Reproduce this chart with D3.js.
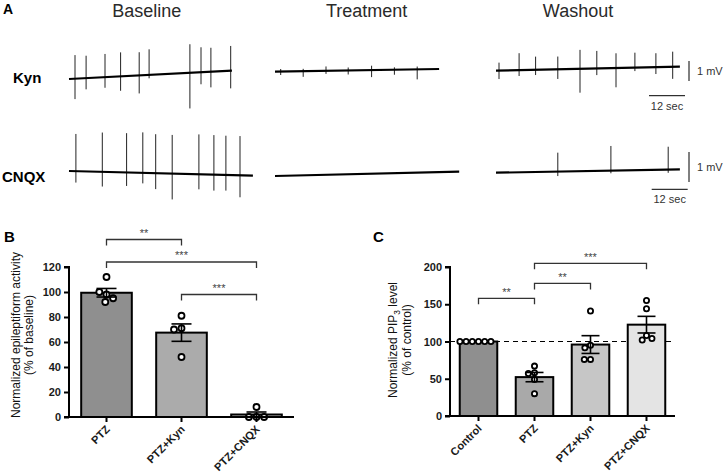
<!DOCTYPE html>
<html><head><meta charset="utf-8">
<script src="https://cdn.jsdelivr.net/npm/d3@7"></script>
<style>body{margin:0;background:#fff}svg{display:block;font-family:"Liberation Sans",Arial,sans-serif}</style>
</head><body><svg id="c" width="725" height="473"></svg>
<script>
// ---------------- DATA ----------------
// Panel A: electrophysiology traces (time in s, amplitudes in mV)
const traceRows = ["Kyn", "CNQX"];
const traceConditions = ["Baseline", "Treatment", "Washout"];
const traceDurations = [[54.3, 54.7, 61.3], [61.3, 61.4, 61.3]];
// baseline drift (mV at start, mV at end)
const kynDrift  = [[-0.2, 0.215], [0.165, 0.3], [0.215, 0.415]];
const cnqxDrift = [[0.067, -0.09], [-0.1, 0.043], [0.01, 0.123]];
// spikes: times (s), upward amplitude (mV), downward amplitude (mV)
const kynBaselineT    = [2, 5.7, 12, 17.2, 23.4, 26.7, 40.3, 44, 47.3, 53.9];
const kynBaselineUp   = [1.18, 1.12, 1.16, 1.2, 1.16, 1.28, 1.43, 1.25, 1.2, 1.24];
const kynBaselineDn   = [1.02, 0.56, 0.53, 0.72, 0.9, 0.17, 1.78, 0.6, 0.78, 0.88];
const kynTreatT       = [1.9, 9.4, 17, 24.4, 32.2, 39.8, 47.4];
const kynTreatUp      = [0.13, 0.12, 0.22, 0.15, 0.22, 0.12, 0.14];
const kynTreatDn      = [0.17, 0.28, 0.15, 0.2, 0.35, 0.25, 0.5];
const kynWashT        = [1, 7.7, 13.2, 20.6, 28, 33.6, 40, 46.3, 53.3, 58.9];
const kynWashUp       = [0.4, 0.85, 0.66, 0.64, 0.95, 0.88, 0.74, 0.75, 0.7, 0.76];
const kynWashDn       = [0.42, 0.29, 0.26, 0.48, 1.19, 0.33, 0.96, 0.17, 0.34, 0.6];
const cnqxBaselineT   = [2.3, 11.1, 19.2, 24.6, 28.9, 34.4, 43.3, 48.3, 52.3, 57];
const cnqxBaselineUp  = [1.24, 1.31, 1.31, 1.35, 1.3, 1.29, 1.33, 1.32, 1.31, 1.31];
const cnqxBaselineDn  = [0.38, 0.49, 0.45, 0.35, 0.53, 0.86, 0.5, 0.53, 0.52, 0.73];
const cnqxTreatT      = [];
const cnqxTreatUp     = [];
const cnqxTreatDn     = [];
const cnqxWashT       = [20.6, 38.3, 57.4];
const cnqxWashUp      = [0.63, 0.82, 0.76];
const cnqxWashDn      = [0.15, 0.09, 0.11];
const scaleBarMV = 1, scaleBarSec = 12;

// Panel B
const catsB = ["PTZ", "PTZ+Kyn", "PTZ+CNQX"];
const pointsB = [[112, 98, 100, 92, 95], [81, 71, 70, 48], [8, 0, 0, 0]];
const ticksB = [0, 20, 40, 60, 80, 100, 120];
const sigB = [["PTZ", "PTZ+Kyn", "**", 142], ["PTZ", "PTZ+CNQX", "***", 124], ["PTZ+Kyn", "PTZ+CNQX", "***", 98]];

// Panel C
const catsC = ["Control", "PTZ", "PTZ+Kyn", "PTZ+CNQX"];
const pointsC = [[100, 100, 100, 100, 100, 100], [67, 58, 57, 49, 30], [141, 95, 91.5, 76, 76], [155, 144, 108, 102, 104]];
const ticksC = [0, 50, 100, 150, 200];
const refLineC = 100;
const sigC = [["Control", "PTZ", "**", 158], ["PTZ", "PTZ+Kyn", "**", 178], ["PTZ", "PTZ+CNQX", "***", 205]];

// ---------------- DRAW ----------------
const svg = d3.select("#c");
const FONT = '"Liberation Sans", Arial, sans-serif';

// Panel A
svg.append("text").attr("x", 3).attr("y", 14).attr("font-size", 14).attr("font-weight", "bold").text("A");
const colX = [69, 275, 496];
const colTitleX = [146.7, 366.7, 578];
const pxPerSec = 3;
const rowY = [75, 173];
const pxPerMV = [20, 30];
traceConditions.forEach((c, i) => {
  svg.append("text").attr("x", colTitleX[i]).attr("y", 17).attr("text-anchor", "middle")
    .attr("font-size", 18).attr("fill", "#2a2a2a").text(c);
});
const spikeSets = [
  [[kynBaselineT, kynBaselineUp, kynBaselineDn], [kynTreatT, kynTreatUp, kynTreatDn], [kynWashT, kynWashUp, kynWashDn]],
  [[cnqxBaselineT, cnqxBaselineUp, cnqxBaselineDn], [cnqxTreatT, cnqxTreatUp, cnqxTreatDn], [cnqxWashT, cnqxWashUp, cnqxWashDn]]
];
const drifts = [kynDrift, cnqxDrift];
const rowLabelY = [83, 182];
traceRows.forEach((r, ri) => {
  svg.append("text").attr("x", ri === 0 ? 13 : 2).attr("y", rowLabelY[ri]).attr("font-size", 15)
    .attr("font-weight", "bold").text(r);
  const y = d3.scaleLinear().domain([-1, 1]).range([rowY[ri] + pxPerMV[ri], rowY[ri] - pxPerMV[ri]]);
  traceConditions.forEach((c, ci) => {
    const dur = traceDurations[ri][ci];
    const x = d3.scaleLinear().domain([0, dur]).range([colX[ci], colX[ci] + dur * pxPerSec]);
    const dr = drifts[ri][ci];
    const base = d3.scaleLinear().domain([0, dur]).range(dr);
    const g = svg.append("g");
    const [T, U, D] = spikeSets[ri][ci];
    g.selectAll("line.sp").data(T).join("line")
      .attr("x1", t => x(t)).attr("x2", t => x(t))
      .attr("y1", (t, i) => y(base(t) + U[i])).attr("y2", (t, i) => y(base(t) - D[i]))
      .attr("stroke", "#222").attr("stroke-width", 1);
    const line = d3.line().x(d => x(d)).y(d => y(base(d)));
    g.append("path").attr("d", line([0, dur])).attr("stroke", "#000").attr("stroke-width", 2.2).attr("fill", "none");
    if (ci === 2) {
      // scale bars
      const sbX = 689;
      const sbTop = y(0.7);
      g.append("line").attr("x1", sbX).attr("x2", sbX).attr("y1", sbTop).attr("y2", sbTop + (y(0) - y(scaleBarMV)))
        .attr("stroke", "#000").attr("stroke-width", 1);
      g.append("text").attr("x", 697).attr("y", sbTop + (y(0) - y(scaleBarMV)) / 2 + 4).attr("font-size", 11).attr("fill", "#333").text("1 mV");
      const hbY = ri === 0 ? 95.7 : 189.3;
      const hbX1 = ri === 0 ? 649 : 651.7;
      g.append("line").attr("x1", hbX1).attr("x2", hbX1 + (x(scaleBarSec) - x(0))).attr("y1", hbY).attr("y2", hbY)
        .attr("stroke", "#000").attr("stroke-width", 1);
      g.append("text").attr("x", hbX1 + (x(scaleBarSec) - x(0)) / 2).attr("y", hbY + 14).attr("text-anchor", "middle")
        .attr("font-size", 11).attr("fill", "#333").text("12 sec");
    }
  });
});

// helpers
function mean(a) { return d3.mean(a); }
function sem(a) { return a.length > 1 ? d3.deviation(a) / Math.sqrt(a.length) : 0; }
function dodge(vals, y, D) {
  const placed = [];
  return vals.map(v => {
    const yy = y(v);
    const forb = [];
    placed.forEach(p => {
      const dy = Math.abs(p.y - yy);
      if (dy < D) { const w = Math.sqrt(D * D - dy * dy); forb.push([p.x - w, p.x + w]); }
    });
    const cands = [0];
    forb.forEach(f => { cands.push(f[0], f[1]); });
    cands.sort((a, b) => Math.abs(a) - Math.abs(b));
    let xx = 0;
    for (const c of cands) {
      if (forb.every(f => c <= f[0] + 1e-6 || c >= f[1] - 1e-6)) { xx = c; break; }
    }
    placed.push({ x: xx, y: yy });
    return xx;
  });
}

function barPanel(opts) {
  const { cats, pts, ticks, x, y, colors, r, D, capW, sig, ylab, ylabX, ylabY, ylabSize, ylabGap, ref } = opts;
  const g = svg.append("g");
  // axes
  const yAxis = d3.axisLeft(y).tickValues(ticks).tickSize(5).tickPadding(3);
  const ga = g.append("g").attr("transform", `translate(${x.range()[0]},0)`).call(yAxis);
  ga.select(".domain").attr("stroke-width", 2).attr("d", `M-5,${y(ticks[0])}H0V${y(ticks[ticks.length - 1])}H-5`);
  ga.selectAll(".tick line").attr("stroke-width", 2);
  ga.selectAll("text").attr("font-size", 11).attr("font-weight", "bold").attr("font-family", FONT).attr("fill", "#1a1a1a");
  if (ref !== undefined) {
    g.append("line").attr("x1", x.range()[0]).attr("x2", x.range()[1]).attr("y1", y(ref)).attr("y2", y(ref))
      .attr("stroke", "#000").attr("stroke-width", 1.2).attr("stroke-dasharray", "5,4");
  }
  // bars
  cats.forEach((c, i) => {
    const m = mean(pts[i]), s = sem(pts[i]);
    const cx = x(c) + x.bandwidth() / 2;
    g.append("rect").attr("x", x(c)).attr("y", y(m)).attr("width", x.bandwidth()).attr("height", y(0) - y(m))
      .attr("fill", colors[i]).attr("stroke", "#000").attr("stroke-width", 2);
    const offs = dodge(pts[i], y, D);
    g.selectAll(null).data(pts[i]).join("circle")
      .attr("cx", (d, k) => cx + offs[k]).attr("cy", d => y(d)).attr("r", r)
      .attr("fill", "#fff").attr("stroke", "#000").attr("stroke-width", 1.8);
    if (s > 0) {
      g.append("line").attr("x1", cx).attr("x2", cx).attr("y1", y(m - s)).attr("y2", y(m + s)).attr("stroke", "#000").attr("stroke-width", 1.6);
      [m - s, m + s].forEach(v => g.append("line").attr("x1", cx - capW / 2).attr("x2", cx + capW / 2)
        .attr("y1", y(v)).attr("y2", y(v)).attr("stroke", "#000").attr("stroke-width", 1.6));
    }
  });
  // x axis
  const xa = g.append("g");
  xa.append("line").attr("x1", x.range()[0]).attr("x2", x.range()[1]).attr("y1", y(0)).attr("y2", y(0)).attr("stroke", "#000").attr("stroke-width", 2);
  cats.forEach(c => {
    const cx = x(c) + x.bandwidth() / 2;
    xa.append("line").attr("x1", cx).attr("x2", cx).attr("y1", y(0)).attr("y2", y(0) + 5).attr("stroke", "#000").attr("stroke-width", 2);
    xa.append("text").attr("transform", `translate(${cx + 4},${y(0) + 13}) rotate(-45)`).attr("text-anchor", "end")
      .attr("font-size", 11).attr("font-weight", "bold").attr("fill", "#1a1a1a").text(c);
  });
  // significance
  sig.forEach(([a, b, lab, lev]) => {
    const x1 = x(a) + x.bandwidth() / 2, x2 = x(b) + x.bandwidth() / 2, yy = y(lev);
    g.append("path").attr("d", `M${x1},${yy + 6}V${yy}H${x2}V${yy + 6}`).attr("fill", "none").attr("stroke", "#333").attr("stroke-width", 1.3);
    g.append("text").attr("x", (x1 + x2) / 2).attr("y", yy - 9 + 6.3).attr("text-anchor", "middle")
      .attr("font-size", 11).attr("fill", "#444").text(lab);
  });
  // y label
  const t = g.append("g").attr("transform", `translate(${ylabX},${ylabY}) rotate(-90)`);
  ylab.forEach((l, i) => {
    const tx = t.append("text").attr("x", 0).attr("y", i * ylabGap).attr("text-anchor", "middle").attr("font-size", ylabSize).attr("fill", "#111");
    l.forEach(([s, sub], k) => {
      const ts = tx.append("tspan").text(s);
      if (sub) ts.attr("font-size", ylabSize * 0.7).attr("dy", 3);
      else if (k > 0 && l[k - 1][1]) ts.attr("dy", -3);
    });
  });
}

// Panel B
svg.append("text").attr("x", 4).attr("y", 241.5).attr("font-size", 15).attr("font-weight", "bold").text("B");
const xB = d3.scaleBand().domain(catsB).range([69, 294]).paddingInner(0.325).paddingOuter(0.1625);
const yB = d3.scaleLinear().domain([0, 120]).range([417, 267]);
barPanel({
  cats: catsB, pts: pointsB, ticks: ticksB, x: xB, y: yB,
  colors: ["#8f8f8f", "#ababab", "#c9c9c9"], r: 3, D: 7.6, capW: 20, sig: sigB,
  ylab: [[["Normalized epileptiform activity"]], [["(% of baseline)"]]], ylabX: 20, ylabY: 335, ylabSize: 12, ylabGap: 13
});

// Panel C
svg.append("text").attr("x", 373).attr("y", 241.5).attr("font-size", 15).attr("font-weight", "bold").text("C");
const xC = d3.scaleBand().domain(catsC).range([450, 675]).paddingInner(0.33).paddingOuter(0.174);
const yC = d3.scaleLinear().domain([0, 200]).range([416, 267]);
barPanel({
  cats: catsC, pts: pointsC, ticks: ticksC, x: xC, y: yC,
  colors: ["#8f8f8f", "#a9a9a9", "#c6c6c6", "#e4e4e4"], r: 2.6, D: 6.2, capW: 18, sig: sigC, ref: refLineC,
  ylab: [[["Normalized PIP"], ["3", true], [" level"]], [["(% of control)"]]], ylabX: 397, ylabY: 340, ylabSize: 12, ylabGap: 14
});
</script></body></html>
